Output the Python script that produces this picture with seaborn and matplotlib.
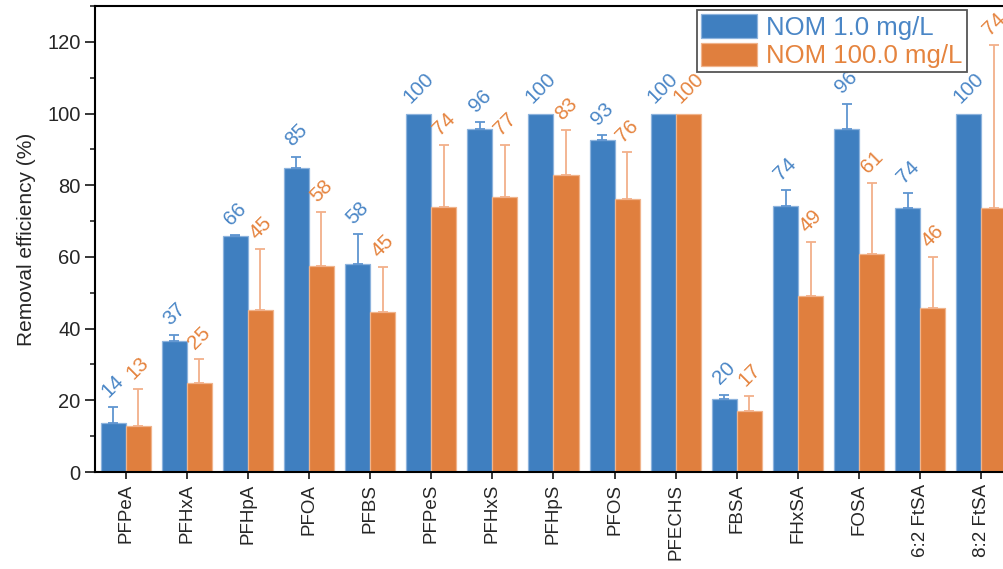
import numpy as np
import pandas as pd
import matplotlib
matplotlib.use("Agg")
import matplotlib.pyplot as plt
from matplotlib.ticker import MultipleLocator
from matplotlib.patches import Patch
import seaborn as sns

# Compounds and removal efficiencies (%) at the two NOM levels
compounds = ["PFPeA", "PFHxA", "PFHpA", "PFOA", "PFBS", "PFPeS", "PFHxS", "PFHpS",
             "PFOS", "PFECHS", "FBSA", "FHxSA", "FOSA", "6:2 FtSA", "8:2 FtSA"]
series_names = ["NOM 1.0 mg/L", "NOM 100.0 mg/L"]
nom_low = [13.8, 36.6, 65.9, 84.7, 58.0, 100, 95.8, 100, 92.7, 100, 20.3, 74.2, 95.6, 73.6, 100]
nom_low_err = [4.3, 1.6, 0.3, 3.3, 8.3, 0, 1.8, 0, 1.2, 0, 1.3, 4.5, 7.2, 4.1, 0]
nom_high = [12.7, 24.9, 45.2, 57.6, 44.7, 73.8, 76.8, 82.8, 76.1, 100, 17.0, 49.1, 60.8, 45.8, 73.6]
nom_high_err = [10.4, 6.7, 16.9, 15.0, 12.4, 17.5, 14.5, 12.5, 13.1, 0, 4.3, 15.1, 19.8, 14.1, 45.4]

bar_colors = ["#3F7FC0", "#E07F3E"]
edge_colors = ["#8DB3DD", "#F0B48C"]
err_colors = ["#5F95D0", "#F2B08A"]
text_colors = ["#4A86C6", "#E5843F"]

sns.set_style("ticks")
plt.rcParams["font.family"] = ["Liberation Sans", "DejaVu Sans"]

df = pd.DataFrame({
    "compound": compounds * 2,
    "value": nom_low + nom_high,
    "series": [series_names[0]] * len(compounds) + [series_names[1]] * len(compounds),
})

fig = plt.figure(figsize=(10.04, 5.69), dpi=100)
ax = fig.add_axes([95 / 1004, 1 - 472 / 569, 917 / 1004, 466 / 569])

sns.barplot(data=df, x="compound", y="value", hue="series", hue_order=series_names,
            order=compounds, palette=bar_colors, saturation=1, width=0.82,
            errorbar=None, ax=ax, legend=False)

bar_containers = list(ax.containers)
values = [nom_low, nom_high]
errors = [nom_low_err, nom_high_err]
for k, container in enumerate(bar_containers):
    xs = np.array([b.get_x() + b.get_width() / 2 for b in container])
    vals = np.array(values[k], dtype=float)
    errs = np.array(errors[k], dtype=float)
    for b in container:
        b.set_edgecolor(edge_colors[k])
        b.set_linewidth(0.9)
    m = errs > 0
    ax.errorbar(xs[m], vals[m], yerr=[np.zeros(m.sum()), errs[m]], fmt="none",
                ecolor=err_colors[k], elinewidth=1.3, capsize=3.8, capthick=1.3, zorder=3)
    for x, v, e in zip(xs, vals, errs):
        ax.annotate(f"{v:.0f}", (x, v + e), xytext=(0, 4.5), textcoords="offset points",
                    rotation=45, ha="center", va="bottom", fontsize=14.8,
                    color=text_colors[k], zorder=4)

ax.set_xlim(-0.5, len(compounds) - 0.5)
ax.set_ylim(0, 130)
ax.yaxis.set_major_locator(MultipleLocator(20))
ax.yaxis.set_minor_locator(MultipleLocator(10))
ax.set_xlabel("")
ax.set_ylabel("Removal efficiency (%)", fontsize=15, labelpad=8)
ax.tick_params(axis="y", which="major", direction="out", length=7, width=1.3, labelsize=14.5)
ax.tick_params(axis="y", which="minor", direction="out", length=3.8, width=1.2)
ax.tick_params(axis="x", direction="out", length=5, width=1.3, labelsize=13.5, labelrotation=90)
for s in ax.spines.values():
    s.set_linewidth(1.5)
    s.set_color("black")
    s.set_visible(True)

handles = [Patch(facecolor=bar_colors[i], edgecolor=edge_colors[i], linewidth=0.9)
           for i in range(2)]
leg = ax.legend(handles, series_names, loc="upper left",
                bbox_to_anchor=(697 / 1004, 1 - 10 / 569), bbox_transform=fig.transFigure,
                borderaxespad=0, fontsize=18.5, frameon=True, fancybox=False,
                framealpha=1, edgecolor="#555555", handlelength=2.2, handleheight=1.05,
                handletextpad=0.35, labelspacing=0.12, borderpad=0.15)
leg.get_frame().set_linewidth(1.3)
for t, c in zip(leg.get_texts(), text_colors):
    t.set_color(c)

fig.savefig("out.png", dpi=100)
